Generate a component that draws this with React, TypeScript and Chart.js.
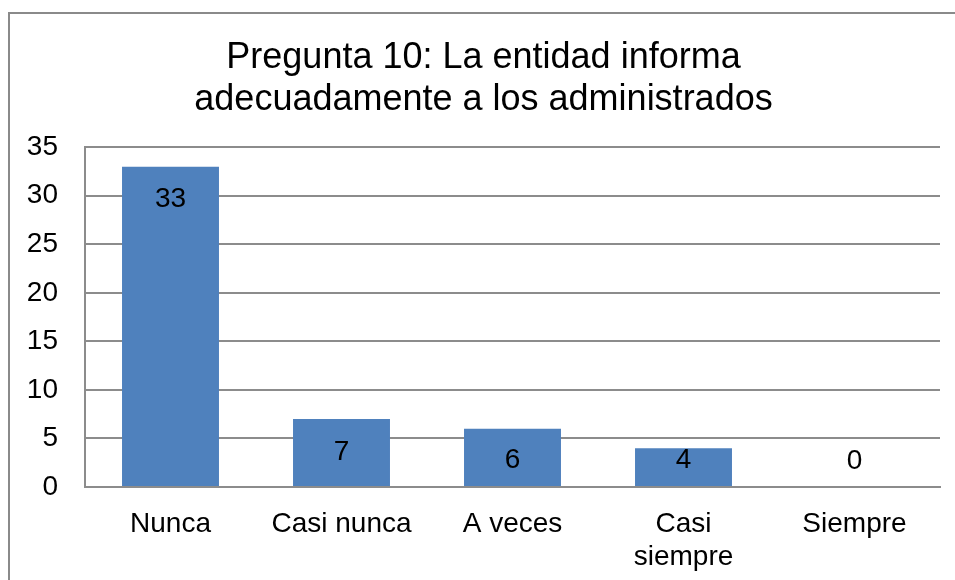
import React, { useEffect, useRef } from "react";
import { Chart, registerables } from "chart.js";

Chart.register(...registerables);

const categories: (string | string[])[] = ["Nunca", "Casi nunca", "A veces", ["Casi", "siempre"], "Siempre"];
const values: number[] = [33, 7, 6, 4, 0];
const titleLines: string[] = ["Pregunta 10: La entidad informa", "adecuadamente a los administrados"];

const FONT = "'Liberation Sans', Arial, sans-serif";
const GRID = "#8c8c8c";

const dataLabels = {
  id: "dataLabels",
  afterDatasetsDraw(chart: any) {
    const ctx = chart.ctx;
    const meta = chart.getDatasetMeta(0);
    ctx.save();
    ctx.font = `28px ${FONT}`;
    ctx.fillStyle = "#000";
    ctx.textAlign = "center";
    ctx.textBaseline = "middle";
    meta.data.forEach((el: any, i: number) => {
      const y = Math.min(el.y + 33, el.base - 26);
      ctx.fillText(String(values[i]), el.x, y);
    });
    ctx.restore();
  },
};

export default function App() {
  const ref = useRef<HTMLCanvasElement | null>(null);
  useEffect(() => {
    if (!ref.current) return;
    const chart = new Chart(ref.current, {
      type: "bar",
      data: {
        labels: categories as any,
        datasets: [
          {
            data: values,
            backgroundColor: "#4F81BD",
            borderWidth: 0,
            categoryPercentage: 1,
            barPercentage: 0.567,
          },
        ],
      },
      options: {
        animation: false,
        responsive: false,
        maintainAspectRatio: false,
        layout: { padding: { left: 27, right: 15, top: 0, bottom: 0 } },
        plugins: {
          legend: { display: false },
          tooltip: { enabled: false },
          title: {
            display: true,
            text: titleLines,
            color: "#000",
            font: { family: FONT, size: 36, weight: "normal", lineHeight: 1.17 },
            padding: { top: 37, bottom: 26 },
          },
        },
        scales: {
          x: {
            grid: { display: false, drawTicks: false },
            border: { display: true, color: GRID, width: 2 },
            ticks: {
              color: "#000",
              font: { family: FONT, size: 28, lineHeight: 1.2 },
              padding: 20,
              maxRotation: 0,
              autoSkip: false,
            },
            afterFit: (scale: any) => {
              scale.height = 93;
            },
          },
          y: {
            min: 0,
            max: 35,
            grid: { color: GRID, lineWidth: 2, drawTicks: false },
            border: { display: true, color: GRID, width: 2 },
            ticks: {
              stepSize: 5,
              color: "#000",
              font: { family: FONT, size: 28 },
              padding: 27,
            },
            afterFit: (scale: any) => {
              scale.width = 58;
            },
          },
        },
      },
      plugins: [dataLabels],
    });
    return () => chart.destroy();
  }, []);

  return (
    <div style={{ position: "absolute", left: 0, top: 0, width: 955, height: 580, overflow: "hidden", background: "#fff" }}>
      <div
        style={{
          position: "absolute",
          left: 8,
          top: 12,
          width: 1000,
          height: 1000,
          border: "2px solid #8a8a8a",
        }}
      />
      <canvas ref={ref} width={955} height={580} style={{ position: "absolute", left: 0, top: 0, width: 955, height: 580 }} />
    </div>
  );
}
